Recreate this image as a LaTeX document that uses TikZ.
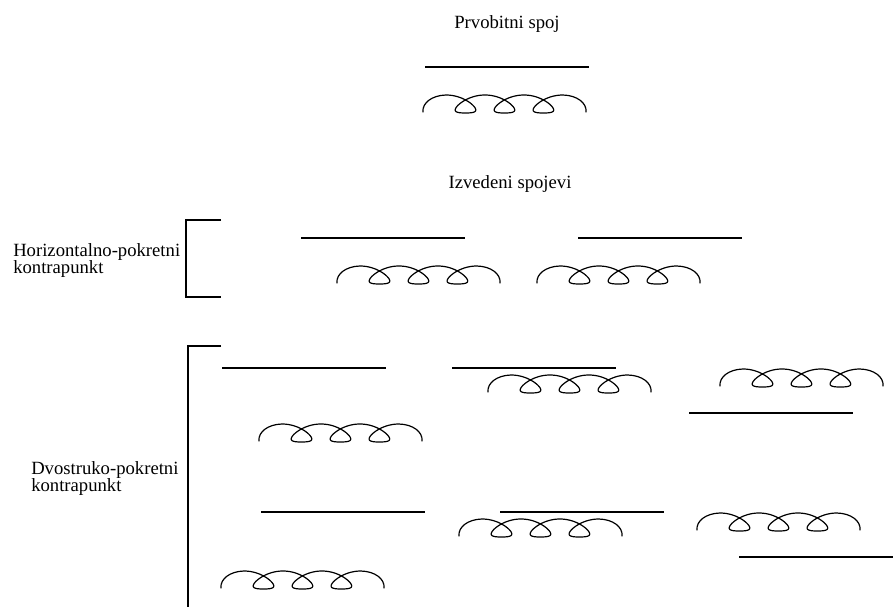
\documentclass[tikz,border=0pt]{standalone}
\usepackage{fontspec}
\setmainfont{Liberation Serif}
\begin{document}
\begin{tikzpicture}[x=0.75pt,y=-0.75pt,
  lbl/.style={font=\fontsize{14}{11.4}\selectfont, inner sep=0pt},
  side/.style={lbl, anchor=base west},
  voice/.style={line width=0.9pt},
  brace/.style={line width=0.9pt},
  coil/.pic={
    \draw[line width=0.9pt, line cap=round]
      (0,17) .. controls (-1,8) and (9,0.3) .. (23,0)
      -- plot[domain=0:6*pi, samples=241, variable=\t]
         ({23+6.2*\t+19*sin(\t r)}, {10.7-9*cos(\t r)-1.7*cos(2*\t r)})
      .. controls (154,0.3) and (164,8) .. (163,17);
  }]
  \fill[white] (0,0) rectangle (893,607);
  \useasboundingbox (0,0) rectangle (893,607);

  % original combination
  \node[lbl, anchor=base] (orig) at (507,28) {Prvobitni spoj};
  \draw[voice] (425,67) coordinate (o1a) -- (589,67) coordinate (o1b);
  \pic at (423,95) {coil};

  % derived combinations
  \node[lbl, anchor=base] (deriv) at (510,188) {Izvedeni spojevi};

  % horizontal-shifting counterpoint
  \node[side] (hlabel) at (13,256) {Horizontalno-pokretni};
  \node[side] (hlabelb) at (13,273) {kontrapunkt};
  \coordinate (hb1) at (221,220);
  \coordinate (hb2) at (221,297);
  \draw[brace] (hb1) -- (186,220) -- (186,297) -- (hb2);
  \draw[voice] (301,238) -- (465,238);
  \draw[voice] (578,238) -- (742,238);
  \pic at (337,266) {coil};
  \pic at (537,266) {coil};

  % double-shifting counterpoint
  \node[side] (dlabel) at (31,474) {Dvostruko-pokretni};
  \node[side] (dlabelb) at (31,491) {kontrapunkt};
  \coordinate (db1) at (221,346);
  \coordinate (db2) at (188,607);
  \draw[brace] (db1) -- (188,346) -- (db2);

  \draw[voice] (222,368) -- (386,368);
  \pic at (259,424) {coil};
  \draw[voice] (452,368) -- (616,368);
  \pic at (488,375) {coil};
  \pic at (720,369) {coil};
  \draw[voice] (689,413) -- (853,413);

  \draw[voice] (261,512) -- (425,512);
  \pic at (221,571) {coil};
  \draw[voice] (500,512) -- (664,512);
  \pic at (459,519) {coil};
  \pic at (697,513) {coil};
  \draw[voice] (739,557) -- (893,557);
\end{tikzpicture}
\end{document}
